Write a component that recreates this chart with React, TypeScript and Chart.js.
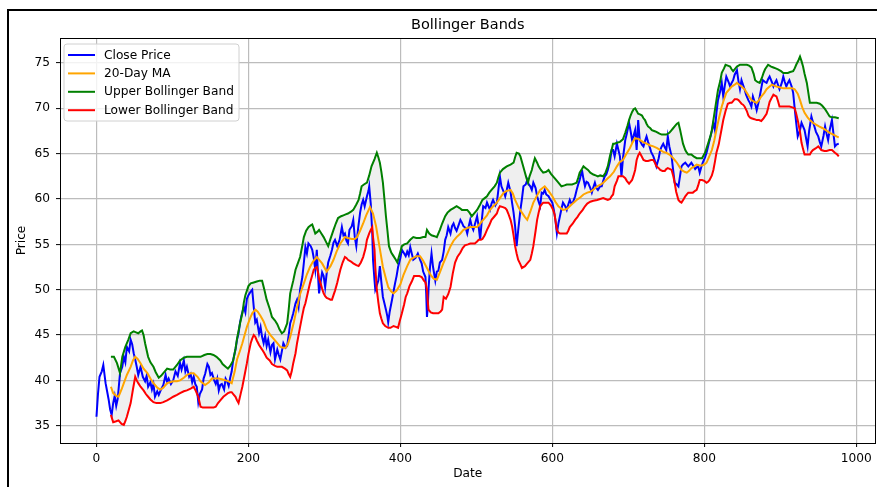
import { useEffect, useRef } from "react";
import { Chart, registerables } from "chart.js";

Chart.register(...registerables);

const chartTitle = "Bollinger Bands";
const xLabel = "Date";
const yLabel = "Price";
const seriesNames = ["Close Price", "20-Day MA", "Upper Bollinger Band", "Lower Bollinger Band"];
const xTicks = [0, 200, 400, 600, 800, 1000];
const yTicks = [35, 40, 45, 50, 55, 60, 65, 70, 75];

const closePrice: [number, number][] = [
  [0,36.0],[2,38.5],[4,40.4],[7,41.0],[9,41.7],[12,39.7],[14,38.8],[16,37.9],[18,36.8],[20,36.2],
  [22,37.5],[24,38.3],[26,37.2],[28,38.0],[31,40.8],[34,41.5],[36,42.6],[38,42.0],[40,43.7],[43,43.2],
  [45,44.5],[47,44.0],[49,43.0],[51,42.3],[53,41.5],[55,40.6],[58,41.5],[61,40.4],[64,39.9],[66,40.5],
  [68,39.3],[71,39.8],[73,39.0],[75,39.6],[77,38.2],[80,38.8],[82,38.4],[85,39.0],[88,39.5],[91,40.6],
  [93,39.8],[95,40.2],[98,39.6],[101,40.0],[104,41.0],[107,40.5],[110,41.9],[112,41.2],[115,42.2],[117,41.0],
  [119,41.5],[122,40.4],[124,40.7],[126,39.8],[128,40.4],[130,39.6],[132,39.3],[134,37.6],[136,38.5],[139,39.0],
  [141,40.2],[143,40.7],[146,41.8],[148,41.5],[150,40.6],[152,40.8],[155,40.0],[157,39.6],[159,40.2],[161,38.9],
  [163,39.5],[165,39.6],[168,39.0],[170,40.2],[172,39.9],[174,39.4],[176,40.3],[178,41.0],[180,42.3],[183,43.4],
  [185,44.5],[187,45.2],[189,46.4],[191,47.2],[194,48.1],[196,47.5],[198,49.0],[200,49.4],[203,49.8],[205,50.0],
  [207,48.1],[209,46.4],[211,46.7],[214,45.2],[216,45.9],[218,44.8],[220,44.1],[222,44.9],[224,43.8],[226,44.5],
  [229,43.1],[231,43.9],[233,44.1],[235,42.3],[238,43.4],[240,42.8],[242,42.3],[244,43.2],[246,44.1],[249,43.6],
  [251,43.8],[253,45.0],[255,46.3],[257,46.8],[259,47.4],[262,48.5],[264,48.9],[266,48.1],[268,50.0],[271,51.4],
  [273,53.0],[275,54.7],[277,54.0],[279,55.1],[282,54.8],[284,54.4],[286,53.5],[288,52.2],[290,54.4],[292,51.0],
  [293,49.6],[295,50.8],[297,51.9],[299,51.5],[301,50.3],[303,51.8],[305,53.0],[308,53.8],[310,54.4],[312,55.2],
  [314,55.5],[317,54.8],[320,55.5],[323,56.9],[325,56.0],[327,56.2],[329,55.4],[331,55.1],[333,56.6],[336,57.0],
  [338,57.7],[340,55.8],[342,54.8],[344,56.5],[347,58.5],[349,59.4],[351,59.9],[353,59.2],[356,60.3],[358,60.9],
  [359,61.4],[361,59.5],[363,56.2],[364,53.3],[366,51.0],[367,50.0],[369,50.5],[371,51.0],[373,52.6],[375,50.8],
  [377,49.2],[379,48.5],[381,47.8],[383,47.0],[384,46.4],[386,47.6],[389,48.9],[391,49.8],[393,50.7],[395,51.5],
  [397,52.5],[400,53.5],[402,54.4],[405,54.0],[407,53.7],[409,54.2],[411,53.8],[413,54.7],[415,54.0],[417,53.3],
  [420,53.5],[423,54.0],[426,53.3],[428,52.9],[430,52.0],[433,51.4],[434,49.6],[435,47.0],[436,48.0],[437,50.0],
  [439,52.5],[441,54.0],[443,52.5],[446,51.0],[448,52.0],[450,52.1],[452,53.0],[455,53.3],[457,54.2],[459,55.5],
  [461,56.0],[463,56.9],[466,56.2],[468,57.0],[470,57.3],[472,56.8],[474,56.5],[477,57.2],[479,57.7],[481,57.4],
  [483,57.0],[486,56.8],[488,56.2],[490,57.0],[492,57.7],[494,57.0],[496,56.6],[499,57.5],[501,58.1],[503,57.0],
  [505,55.5],[507,57.5],[509,59.2],[512,59.0],[514,59.6],[516,59.2],[518,58.8],[520,59.5],[522,59.9],[525,59.3],
  [527,59.6],[529,61.0],[531,62.5],[533,61.4],[536,60.8],[538,60.3],[540,61.0],[542,61.8],[545,60.8],[547,59.6],
  [549,58.5],[551,57.0],[553,54.8],[555,56.5],[558,58.8],[560,60.0],[562,61.4],[565,61.6],[567,62.1],[569,61.6],
  [571,61.4],[573,61.0],[575,61.8],[578,61.2],[580,60.3],[582,59.7],[584,59.2],[586,60.7],[588,60.6],[590,61.0],
  [592,60.5],[595,60.3],[597,60.0],[600,59.6],[602,58.8],[604,57.7],[606,56.2],[608,57.3],[610,58.1],[612,58.9],
  [614,59.6],[617,59.2],[619,58.8],[621,59.4],[623,59.9],[625,59.5],[627,59.6],[630,60.3],[632,61.0],[634,61.6],
  [636,62.1],[638,62.8],[639,63.2],[641,62.2],[643,61.4],[645,61.9],[647,61.8],[650,61.2],[652,60.7],[654,61.3],
  [656,61.8],[658,61.2],[660,61.0],[663,61.4],[665,61.4],[667,62.0],[669,62.5],[671,62.7],[673,63.2],[676,64.2],
  [678,65.4],[680,65.4],[682,64.7],[685,66.1],[687,65.4],[689,64.7],[691,62.5],[693,64.5],[696,66.5],[698,67.2],
  [701,68.4],[703,67.5],[705,66.5],[707,67.0],[709,67.6],[711,65.4],[713,68.7],[715,66.5],[718,66.0],[720,65.8],
  [722,66.4],[724,66.9],[726,66.3],[728,65.8],[730,65.2],[733,64.7],[735,64.2],[737,63.6],[740,64.5],[742,65.4],
  [744,65.8],[746,66.1],[748,65.7],[750,65.4],[752,66.9],[754,65.8],[757,64.7],[759,63.2],[761,61.8],[764,61.6],
  [766,61.4],[768,62.5],[770,63.6],[772,63.8],[775,64.0],[777,63.8],[779,63.6],[781,63.8],[783,64.0],[786,63.6],
  [788,63.3],[790,63.5],[792,63.6],[794,62.9],[796,63.5],[798,64.0],[801,64.6],[803,65.1],[805,65.8],[807,66.5],
  [810,67.5],[812,68.4],[814,67.6],[816,69.5],[818,70.9],[821,71.9],[823,72.8],[825,71.3],[827,72.5],[829,73.5],
  [832,72.9],[834,72.4],[836,72.8],[838,73.1],[840,73.7],[843,74.2],[845,73.0],[847,72.1],[849,73.1],[851,72.6],
  [853,72.1],[855,71.5],[858,70.9],[860,70.6],[862,70.2],[864,71.3],[867,70.5],[869,69.8],[871,70.5],[873,71.3],
  [875,72.2],[877,73.1],[880,72.9],[882,72.8],[884,73.2],[886,73.5],[889,72.9],[891,72.4],[893,72.8],[895,73.1],
  [897,72.6],[899,72.1],[902,72.8],[904,73.5],[906,72.9],[908,72.4],[910,72.8],[912,73.1],[915,72.4],[917,71.7],
  [919,70.0],[921,68.4],[923,66.9],[926,67.6],[928,68.4],[930,68.0],[932,67.6],[934,66.7],[936,65.8],[938,67.5],
  [941,69.1],[943,68.5],[945,68.0],[947,67.4],[950,66.9],[952,66.3],[954,65.8],[957,67.0],[959,68.0],[961,67.2],
  [963,66.5],[965,67.6],[968,68.7],[970,67.2],[972,65.8],[974,66.0],[977,66.1]
];

const movingAverage: [number, number][] = [
  [19,39.3],[22,38.6],[26,38.3],[29,38.2],[33,39.0],[36,39.7],[40,40.6],[45,41.5],[48,42.2],[51,42.6],
  [54,42.4],[58,41.9],[62,41.3],[67,40.8],[71,40.2],[75,39.7],[80,39.2],[84,39.0],[88,39.2],[93,39.7],
  [97,39.8],[101,39.9],[106,39.9],[110,40.0],[115,40.3],[119,40.6],[124,40.8],[128,40.8],[133,40.4],[137,39.9],
  [143,39.5],[148,39.8],[152,40.2],[157,40.2],[161,40.2],[166,40.1],[170,40.0],[174,39.9],[178,39.7],[182,41.0],
  [185,42.3],[189,43.3],[192,44.1],[195,45.0],[198,45.9],[202,46.8],[205,47.4],[209,47.8],[212,47.6],[216,47.1],
  [220,46.5],[224,45.6],[229,45.0],[233,44.6],[238,44.1],[242,43.7],[246,43.6],[249,43.6],[252,44.0],[255,44.8],
  [260,46.5],[264,48.1],[268,49.5],[273,50.7],[277,51.7],[281,52.5],[285,53.1],[290,53.6],[294,53.2],[297,52.9],
  [303,52.0],[308,52.6],[312,53.3],[316,54.2],[321,55.1],[327,55.8],[331,55.7],[336,55.6],[340,55.6],[343,55.8],
  [347,56.5],[351,57.3],[355,58.2],[360,59.1],[364,58.4],[368,57.0],[371,55.5],[374,54.0],[377,52.5],[381,51.2],
  [384,50.3],[388,49.8],[391,49.6],[395,49.9],[400,50.6],[404,51.6],[409,52.6],[413,53.3],[417,53.5],[421,53.7],
  [426,53.7],[430,53.2],[435,52.4],[440,51.6],[444,51.2],[448,51.1],[452,51.9],[457,53.0],[462,54.0],[466,54.8],
  [470,55.4],[474,55.8],[479,56.2],[483,56.6],[488,56.8],[492,56.9],[496,56.9],[501,56.9],[505,57.3],[509,57.7],
  [514,58.2],[518,58.8],[522,59.2],[527,59.6],[531,60.1],[536,60.7],[540,60.9],[545,61.0],[548,60.6],[551,59.9],
  [556,59.0],[560,58.5],[564,58.0],[567,57.7],[571,58.6],[575,59.6],[580,60.4],[584,61.0],[590,61.4],[595,60.9],
  [600,60.3],[604,59.7],[608,59.2],[614,58.8],[619,58.9],[623,59.2],[628,59.6],[632,59.9],[637,60.2],[641,60.5],
  [646,60.7],[650,60.8],[655,61.1],[659,61.4],[664,61.6],[667,61.8],[672,62.2],[676,62.5],[681,63.0],[685,63.6],
  [689,64.1],[693,64.3],[697,64.9],[702,65.6],[706,66.3],[709,66.7],[714,66.6],[719,66.3],[724,66.1],[729,65.9],
  [733,65.8],[738,65.6],[742,65.4],[746,65.2],[750,65.1],[754,64.9],[757,64.7],[761,64.3],[764,64.0],[767,63.6],
  [770,63.2],[774,63.0],[777,62.9],[780,63.1],[783,63.4],[787,63.6],[790,63.8],[794,63.7],[797,63.7],[800,63.8],
  [803,64.0],[806,64.6],[810,65.4],[813,66.4],[816,67.6],[819,68.8],[823,70.2],[826,71.0],[829,71.7],[833,72.1],
  [836,72.4],[840,72.6],[843,72.8],[846,72.6],[849,72.4],[853,72.1],[856,71.7],[859,71.3],[862,70.9],[866,70.7],
  [869,70.6],[872,70.9],[875,71.3],[879,71.7],[882,72.1],[886,72.4],[889,72.6],[892,72.5],[895,72.4],[900,72.3],
  [904,72.2],[908,72.2],[912,72.2],[916,72.2],[919,72.1],[923,71.6],[926,70.9],[929,70.1],[932,69.5],[936,69.0],
  [939,68.7],[943,68.4],[947,68.2],[951,68.0],[956,67.8],[960,67.6],[965,67.3],[970,67.1],[974,66.9],[977,66.8]
];

const upperBand: [number, number][] = [
  [19,42.6],[23,42.6],[27,41.9],[31,40.8],[34,42.6],[38,43.7],[42,44.5],[45,45.2],[49,45.4],[52,45.3],
  [55,45.2],[58,45.4],[60,45.5],[62,45.0],[64,44.1],[68,42.6],[71,42.0],[75,41.5],[78,40.9],[82,40.3],
  [85,40.5],[88,40.8],[93,41.3],[97,41.2],[101,41.2],[106,41.7],[110,42.2],[115,42.5],[119,42.6],[124,42.6],
  [128,42.6],[133,42.6],[137,42.6],[142,42.8],[146,42.9],[150,42.9],[154,42.8],[158,42.6],[163,42.2],[166,41.8],
  [170,41.5],[173,41.3],[176,41.6],[180,42.2],[183,43.5],[185,44.6],[189,46.3],[192,47.4],[194,48.6],[196,49.4],
  [200,50.4],[203,50.7],[207,50.8],[211,50.9],[215,51.0],[218,51.0],[221,50.0],[224,48.9],[228,47.9],[231,47.0],
  [235,46.6],[238,46.2],[241,45.6],[244,45.2],[247,45.4],[251,46.3],[253,47.8],[255,49.6],[259,51.0],[262,52.2],
  [265,52.9],[268,53.6],[271,54.9],[273,55.8],[276,56.5],[279,56.9],[282,57.1],[284,57.2],[286,56.7],[288,56.2],
  [291,56.4],[293,56.6],[296,56.2],[299,55.8],[302,55.3],[305,54.8],[308,55.6],[312,56.6],[315,57.3],[318,57.9],
  [322,58.1],[325,58.2],[328,58.3],[331,58.4],[335,58.6],[338,58.8],[342,59.4],[345,59.9],[347,60.6],[349,61.4],
  [352,61.6],[356,61.8],[359,62.6],[362,63.6],[366,64.4],[369,65.1],[371,64.6],[373,64.0],[375,63.0],[377,61.8],
  [379,60.0],[381,58.1],[383,56.5],[385,54.8],[388,54.1],[391,53.7],[394,53.3],[396,53.0],[399,53.9],[402,54.8],
  [405,55.0],[409,55.1],[413,55.5],[417,55.8],[421,55.7],[426,55.7],[430,55.8],[433,55.8],[435,56.6],[438,56.2],
  [441,56.0],[445,55.9],[448,55.8],[452,56.6],[455,57.3],[459,58.1],[462,58.5],[466,58.8],[470,59.0],[474,59.2],
  [478,59.0],[481,58.8],[485,58.8],[488,58.8],[491,58.5],[494,58.1],[498,58.5],[501,58.8],[505,59.4],[508,59.9],
  [511,60.1],[514,60.3],[517,60.7],[520,61.0],[524,61.4],[527,61.8],[529,62.4],[531,62.9],[535,63.3],[540,63.6],
  [545,63.8],[549,64.0],[551,64.6],[553,65.1],[556,65.0],[558,64.7],[561,63.8],[564,62.9],[566,62.3],[568,61.8],
  [570,62.5],[573,63.2],[575,63.9],[577,64.5],[580,64.0],[582,63.6],[585,63.2],[588,62.9],[592,63.0],[595,63.2],
  [598,62.8],[601,62.5],[605,62.1],[608,61.8],[612,61.4],[616,61.5],[619,61.6],[623,61.6],[626,61.6],[629,61.7],
  [632,61.8],[634,62.3],[636,62.9],[639,63.3],[641,63.6],[644,63.4],[647,63.2],[650,62.9],[654,62.7],[657,62.6],
  [660,62.5],[663,62.6],[667,62.5],[670,62.9],[673,63.6],[676,64.8],[678,65.4],[680,66.1],[682,66.1],[685,66.2],
  [689,66.3],[693,66.6],[696,67.3],[699,68.1],[701,68.7],[703,69.2],[705,69.6],[707,69.9],[709,70.0],[711,69.7],
  [713,69.4],[716,69.3],[718,69.2],[720,68.9],[722,68.7],[724,68.3],[726,68.0],[729,67.8],[731,67.6],[734,67.5],
  [737,67.4],[741,67.2],[744,67.1],[747,67.1],[750,67.1],[754,67.3],[757,67.6],[759,67.8],[761,68.0],[764,68.3],
  [766,68.4],[768,67.7],[770,66.9],[772,66.1],[775,65.4],[777,65.1],[779,64.9],[783,64.9],[786,64.7],[790,64.5],
  [794,64.5],[797,64.5],[799,64.8],[801,65.1],[803,65.6],[805,66.1],[808,66.9],[810,67.6],[812,68.7],[814,69.8],
  [816,70.9],[818,72.0],[821,73.0],[823,73.9],[826,74.4],[828,74.8],[831,74.7],[834,74.6],[836,74.3],[838,74.1],
  [841,74.4],[843,74.6],[847,74.8],[851,74.8],[856,74.8],[859,74.7],[862,74.5],[865,73.8],[867,73.1],[870,72.9],
  [873,72.8],[876,73.4],[878,73.9],[880,74.3],[884,74.8],[888,74.6],[891,74.5],[894,74.4],[897,74.3],[901,74.1],
  [904,73.9],[907,73.9],[910,73.9],[913,74.0],[917,74.1],[919,74.4],[921,74.8],[924,75.3],[926,75.7],[928,75.2],
  [930,74.6],[932,73.8],[935,72.8],[937,71.7],[939,70.6],[942,70.6],[945,70.6],[948,70.6],[952,70.5],[955,70.3],
  [959,69.9],[962,69.5],[965,69.1],[968,69.0],[972,69.0],[977,68.9]
];

const lowerBand: [number, number][] = [
  [19,36.2],[22,35.4],[26,35.5],[29,35.6],[33,35.2],[36,35.1],[38,35.5],[40,36.0],[42,36.6],[45,37.5],
  [48,39.0],[51,40.4],[53,40.0],[55,39.7],[58,39.3],[62,38.9],[65,38.5],[68,38.2],[71,37.9],[75,37.6],
  [79,37.5],[84,37.5],[88,37.6],[93,37.8],[97,38.0],[101,38.2],[106,38.4],[110,38.6],[115,38.8],[119,38.9],
  [124,39.1],[128,39.3],[131,38.8],[134,38.2],[137,37.1],[140,37.0],[143,37.0],[146,37.0],[150,37.0],[154,37.0],
  [157,37.1],[160,37.5],[163,37.8],[167,38.2],[170,38.4],[173,38.6],[176,38.7],[178,38.7],[180,38.5],[183,38.2],
  [185,37.8],[187,37.5],[190,38.6],[192,39.3],[195,40.6],[198,41.9],[200,42.9],[203,44.1],[205,44.6],[207,45.0],
  [209,44.8],[211,44.4],[214,43.9],[218,43.4],[221,43.0],[224,42.5],[228,42.2],[231,41.8],[235,41.6],[238,41.5],
  [241,41.5],[244,41.5],[248,41.3],[251,41.1],[253,40.7],[255,40.4],[257,41.0],[259,41.9],[262,43.0],[264,44.1],
  [266,45.0],[268,45.9],[271,47.2],[273,48.0],[275,48.5],[278,49.6],[281,50.7],[284,51.6],[286,52.2],[288,52.4],
  [290,52.5],[292,51.8],[293,51.2],[295,50.7],[297,50.1],[299,49.6],[301,49.3],[303,49.1],[306,49.0],[308,48.9],
  [310,48.9],[312,49.4],[314,49.9],[317,50.8],[319,51.5],[321,52.2],[324,53.0],[327,53.6],[329,53.5],[331,53.3],
  [335,53.1],[338,52.9],[342,52.7],[345,52.6],[348,53.0],[351,53.6],[354,54.5],[356,55.5],[359,56.2],[361,56.6],
  [363,56.9],[364,55.8],[366,54.4],[367,52.5],[369,50.0],[371,48.6],[373,47.4],[375,46.8],[377,46.3],[380,46.0],
  [384,45.8],[387,45.8],[391,46.0],[394,45.9],[397,45.8],[399,46.5],[402,47.4],[405,48.4],[407,49.2],[409,49.6],
  [412,50.4],[415,50.9],[418,51.5],[422,51.5],[425,51.5],[428,51.4],[431,51.0],[433,50.8],[435,50.0],[436,48.8],
  [437,47.8],[440,47.5],[443,47.4],[446,47.4],[450,47.4],[453,47.6],[455,47.8],[457,49.2],[460,49.0],[463,49.5],
  [466,50.3],[469,51.8],[472,53.0],[475,53.6],[479,54.1],[482,54.6],[485,54.9],[489,55.0],[492,55.1],[495,55.1],
  [498,55.1],[501,55.3],[503,55.5],[506,55.5],[508,55.6],[511,56.0],[514,56.6],[517,57.1],[520,57.7],[524,58.1],
  [527,58.4],[529,58.9],[531,59.2],[535,59.1],[538,59.0],[540,58.8],[542,58.4],[545,57.7],[547,57.0],[549,56.0],
  [551,54.8],[553,54.0],[555,53.3],[558,52.8],[560,52.4],[562,52.5],[564,52.6],[567,52.9],[571,53.3],[573,54.0],
  [575,54.8],[578,56.5],[580,57.7],[582,58.5],[584,59.2],[586,59.4],[588,59.6],[592,59.6],[595,59.6],[598,59.3],
  [601,58.8],[603,58.3],[604,57.7],[606,56.6],[608,56.3],[610,56.2],[614,56.2],[617,56.2],[619,56.2],[621,56.5],
  [623,56.9],[627,57.3],[630,57.7],[633,58.0],[636,58.4],[640,58.8],[643,59.2],[646,59.5],[650,59.7],[654,59.8],
  [659,59.9],[663,60.0],[667,60.1],[670,60.0],[673,59.9],[676,60.0],[678,60.3],[680,60.5],[682,61.4],[685,62.0],
  [687,62.5],[690,62.5],[693,62.5],[696,62.3],[698,62.0],[701,61.7],[703,61.9],[705,62.1],[707,62.6],[709,63.2],
  [711,64.3],[713,64.8],[715,65.1],[717,64.8],[720,64.3],[723,64.2],[726,64.2],[730,64.3],[733,64.3],[735,64.0],
  [737,63.6],[740,63.4],[742,63.2],[745,63.1],[748,63.1],[750,63.3],[752,63.4],[755,63.3],[757,63.2],[759,62.6],
  [761,61.8],[763,60.8],[766,59.9],[768,59.7],[770,59.6],[773,60.0],[775,60.3],[777,60.5],[779,60.7],[782,60.7],
  [785,60.7],[788,60.9],[790,61.0],[792,61.5],[794,62.1],[797,62.1],[800,62.0],[803,61.8],[805,61.9],[807,62.1],
  [810,62.6],[812,63.2],[814,64.1],[816,65.1],[819,66.0],[821,66.9],[823,67.8],[825,68.7],[828,69.7],[831,70.5],
  [834,70.6],[836,70.6],[838,70.8],[840,71.0],[843,71.0],[845,70.9],[847,70.7],[849,70.5],[851,70.4],[853,70.2],
  [856,69.7],[858,69.2],[860,69.0],[862,68.9],[866,68.8],[869,68.7],[872,68.7],[875,68.6],[878,68.9],[882,69.4],
  [884,70.0],[886,70.7],[889,71.2],[891,71.5],[893,71.4],[895,71.3],[897,70.8],[899,70.2],[902,70.2],[904,70.2],
  [908,70.2],[912,70.2],[916,70.1],[919,70.0],[921,69.4],[923,68.7],[926,67.4],[928,66.2],[930,65.5],[932,64.9],
  [936,64.9],[939,64.9],[941,65.2],[943,65.4],[947,65.6],[950,65.8],[952,65.6],[954,65.4],[958,65.3],[961,65.3],
  [965,65.4],[968,65.4],[972,65.1],[975,64.9],[977,64.7]
];

const seriesColors = ["#0000ff", "#ffa500", "#008000", "#ff0000"];
const FONT = '"DejaVu Sans", sans-serif';

export default function App() {
  const ref = useRef<HTMLCanvasElement | null>(null);

  useEffect(() => {
    const canvas = ref.current;
    if (!canvas) return;
    const toXY = (s: [number, number][]) => s.map(([x, y]) => ({ x, y }));

    const overlay = {
      id: "overlay",
      afterDraw(chart: any) {
        const { ctx, chartArea: a } = chart;
        ctx.save();
        // axes frame (spines)
        ctx.strokeStyle = "#000";
        ctx.lineWidth = 1;
        ctx.strokeRect(Math.round(a.left) + 0.5, Math.round(a.top) + 0.5, Math.round(a.right - a.left) - 1, Math.round(a.bottom - a.top));
        // title
        ctx.fillStyle = "#000";
        ctx.font = `14.5px ${FONT}`;
        ctx.textAlign = "center";
        ctx.textBaseline = "middle";
        ctx.fillText(chartTitle, (a.left + a.right) / 2, 25.5);
        // legend
        const lx = a.left + 4, ly = a.top + 6, lw = 175, lh = 77, r = 3;
        ctx.beginPath();
        ctx.moveTo(lx + r, ly);
        ctx.lineTo(lx + lw - r, ly);
        ctx.quadraticCurveTo(lx + lw, ly, lx + lw, ly + r);
        ctx.lineTo(lx + lw, ly + lh - r);
        ctx.quadraticCurveTo(lx + lw, ly + lh, lx + lw - r, ly + lh);
        ctx.lineTo(lx + r, ly + lh);
        ctx.quadraticCurveTo(lx, ly + lh, lx, ly + lh - r);
        ctx.lineTo(lx, ly + r);
        ctx.quadraticCurveTo(lx, ly, lx + r, ly);
        ctx.closePath();
        ctx.fillStyle = "rgba(255,255,255,0.8)";
        ctx.fill();
        ctx.strokeStyle = "#d0d0d0";
        ctx.lineWidth = 1;
        ctx.stroke();
        ctx.font = `12.2px ${FONT}`;
        ctx.textAlign = "left";
        ctx.textBaseline = "middle";
        seriesNames.forEach((name, i) => {
          const y = ly + 11 + i * 18.4;
          ctx.strokeStyle = seriesColors[i];
          ctx.lineWidth = 2;
          ctx.beginPath();
          ctx.moveTo(lx + 4, y);
          ctx.lineTo(lx + 31, y);
          ctx.stroke();
          ctx.fillStyle = "#000";
          ctx.fillText(name, lx + 40, y + 0.5);
        });
        // outer figure border
        ctx.fillStyle = "#000";
        ctx.fillRect(7, 9, 2, 478);
        ctx.fillRect(7, 9, 870, 2);
        ctx.restore();
      },
    };

    const tickFont = { family: FONT, size: 12.2 };

    const chart = new Chart(canvas, {
      type: "line",
      data: {
        datasets: [
          { label: seriesNames[0], data: toXY(closePrice), borderColor: seriesColors[0], borderWidth: 2, pointRadius: 0, fill: false, order: 3 },
          { label: seriesNames[1], data: toXY(movingAverage), borderColor: seriesColors[1], borderWidth: 2, pointRadius: 0, fill: false, order: 2 },
          { label: seriesNames[2], data: toXY(upperBand), borderColor: seriesColors[2], borderWidth: 2, pointRadius: 0, fill: "+1", backgroundColor: "rgba(128,128,128,0.13)", order: 1 },
          { label: seriesNames[3], data: toXY(lowerBand), borderColor: seriesColors[3], borderWidth: 2, pointRadius: 0, fill: false, order: 0 },
        ],
      },
      options: {
        responsive: false,
        animation: false,
        events: [],
        layout: { padding: { top: 38, right: 1.4, bottom: 0, left: 0 } },
        plugins: {
          legend: { display: false },
          title: { display: false },
          tooltip: { enabled: false },
          filler: { drawTime: "beforeDatasetsDraw" },
        },
        scales: {
          x: {
            type: "linear",
            min: -48,
            max: 1025.5,
            afterBuildTicks: (s: any) => { s.ticks = xTicks.map((v) => ({ value: v })); },
            afterFit: (s: any) => { s.height = 44; },
            grid: { color: "#bcbcbc", lineWidth: 1.2, tickLength: 4, tickColor: "#000", tickWidth: 1 },
            border: { display: false },
            ticks: { font: tickFont, color: "#000", padding: 5, maxRotation: 0, autoSkip: false, callback: (v: any) => String(v) },
            title: { display: true, text: xLabel, font: tickFont, color: "#000", padding: { top: 0, bottom: 5.7 } },
          },
          y: {
            type: "linear",
            min: 33.1,
            max: 77.75,
            afterBuildTicks: (s: any) => { s.ticks = yTicks.map((v) => ({ value: v })); },
            afterFit: (s: any) => { s.width = 60; },
            grid: { color: "#bcbcbc", lineWidth: 1.2, tickLength: 4, tickColor: "#000", tickWidth: 1 },
            border: { display: false },
            ticks: { font: tickFont, color: "#000", padding: 6, autoSkip: false, callback: (v: any) => String(v) },
            title: { display: true, text: yLabel, font: tickFont, color: "#000", padding: { top: 14.7, bottom: 0 } },
          },
        },
      } as any,
      plugins: [overlay],
    });

    return () => chart.destroy();
  }, []);

  return (
    <div style={{ position: "fixed", left: 0, top: 0, width: 877, height: 487, background: "#fff" }}>
      <canvas ref={ref} width={877} height={487} style={{ display: "block" }} />
    </div>
  );
}
